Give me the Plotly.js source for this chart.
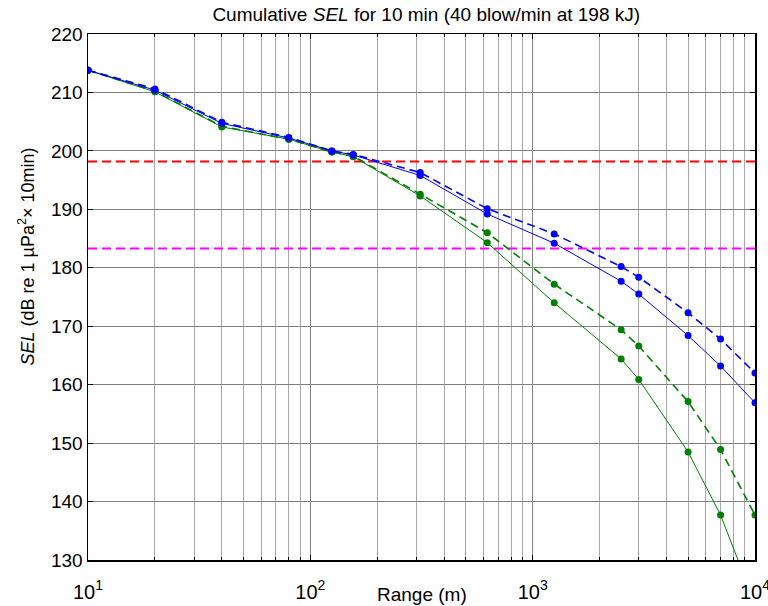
<!DOCTYPE html>
<html>
<head>
<meta charset="utf-8">
<script src="https://cdn.plot.ly/plotly-3.0.1.min.js"></script>
<style>html,body{margin:0;padding:0;background:#fff;}#chart{width:768px;height:606px;}</style>
</head>
<body>
<div id="chart"></div>
<script>
// Range (m)
var range = [10, 20, 40, 80, 125, 156, 312, 625, 1250, 2500, 3000, 5000, 7000, 10000];
// Cumulative SEL series (dB re 1 µPa²·10 min)
var blueDashed  = [213.8, 210.6, 204.9, 202.3, 200.0, 199.4, 196.3, 190.1, 185.8, 180.2, 178.4, 172.3, 167.8, 162.0];
var blueSolid   = [213.8, 210.4, 204.7, 202.2, 200.0, 199.3, 195.8, 189.2, 184.2, 177.7, 175.5, 168.4, 163.2, 156.9];
var greenDashed = [213.8, 210.2, 204.2, 202.0, 199.8, 199.1, 192.6, 186.0, 177.2, 169.4, 166.6, 157.1, 148.9, 137.7];
var greenSolid  = [213.8, 210.1, 204.1, 202.0, 199.8, 199.0, 192.3, 184.3, 174.0, 164.4, 160.9, 148.5, 137.7, 122.5];
// Threshold lines
var thresholdX = [10, 10000];
var redLevel = 198.2;
var magentaLevel = 183.3;
// Tick labels
var xTickVals = [10, 100, 1000, 10000];
var xTickText = ['10<sup>1</sup>', '10<sup>2</sup>', '10<sup>3</sup>', '10<sup>4</sup>'];
var yTickVals = [130, 140, 150, 160, 170, 180, 190, 200, 210, 220];

var FONT = 'Liberation Sans, Arial, sans-serif';
var FS = 19;

function series(y, color, dashed) {
  return {
    x: range, y: y, type: 'scatter', mode: 'lines+markers',
    line: {color: color, width: dashed ? 1.6 : 1, dash: dashed ? '8px,5px' : 'solid'},
    marker: {color: color, size: 7},
    showlegend: false, hoverinfo: 'skip'
  };
}

var traces = [
  {x: thresholdX, y: [redLevel, redLevel], type: 'scatter', mode: 'lines',
   line: {color: '#ff0000', width: 2, dash: '9px,5px'}, showlegend: false, hoverinfo: 'skip'},
  {x: thresholdX, y: [magentaLevel, magentaLevel], type: 'scatter', mode: 'lines',
   line: {color: '#ff00ff', width: 2, dash: '9px,5px'}, showlegend: false, hoverinfo: 'skip'},
  series(greenSolid, '#008000', false),
  series(greenDashed, '#008000', true),
  series(blueSolid, '#0000ff', false),
  series(blueDashed, '#0000ff', true)
];

var layout = {
  width: 768, height: 606,
  margin: {l: 88, r: 13, t: 34, b: 46, pad: 0},
  paper_bgcolor: '#ffffff', plot_bgcolor: '#ffffff',
  font: {family: FONT, size: FS, color: '#000'},
  title: {text: 'Cumulative <i>SEL</i> for 10 min (40 blow/min at 198 kJ)',
          font: {family: FONT, size: FS, color: '#000'},
          x: 0.555, xanchor: 'center', y: 0.977, yanchor: 'middle'},
  xaxis: {
    type: 'log', range: [1, 4],
    tickvals: xTickVals, ticktext: xTickText,
    showline: true, linecolor: '#000', linewidth: 1.5, mirror: 'ticks',
    ticks: 'inside', ticklen: 5, tickcolor: '#000',
    showgrid: true, gridcolor: '#808080', gridwidth: 1,
    zeroline: false,
    ticklabelstandoff: 13,
    ticklabeloverflow: 'allow',
    minor: {dtick: 'D1', showgrid: true, gridcolor: '#a8a8a8', gridwidth: 1, ticks: 'inside', ticklen: 3, tickcolor: '#000'},
    tickfont: {family: FONT, size: 20, color: '#000'}
  },
  yaxis: {
    range: [130, 220], tickvals: yTickVals,
    showline: true, linecolor: '#000', linewidth: 1.5, mirror: 'ticks',
    ticks: 'inside', ticklen: 5, tickcolor: '#000',
    showgrid: true, gridcolor: '#808080', gridwidth: 1,
    zeroline: false,
    tickfont: {family: FONT, size: FS, color: '#000'}
  },
  annotations: [
    {text: 'Range (m)', xref: 'paper', yref: 'paper', x: 0.5, y: 0, xanchor: 'center', yanchor: 'top',
     yshift: -22, showarrow: false, font: {family: FONT, size: FS, color: '#000'}},
    {text: '<i>SEL</i> (dB re 1 µPa<sup>2</sup>× 10min)', xref: 'paper', yref: 'paper',
     x: 0, y: 0.576, xanchor: 'right', yanchor: 'middle', xshift: -48, textangle: -90,
     showarrow: false, font: {family: FONT, size: 18, color: '#000'}}
  ]
};

Plotly.newPlot('chart', traces, layout, {staticPlot: true, displayModeBar: false});
</script>
</body>
</html>
